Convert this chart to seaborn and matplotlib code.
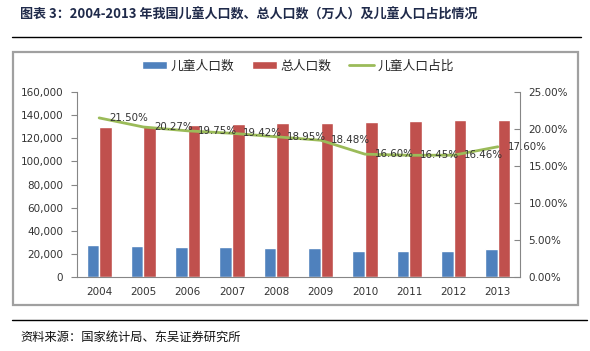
import matplotlib
matplotlib.use("Agg")
import matplotlib.pyplot as plt
import seaborn as sns
import pandas as pd
from matplotlib.ticker import FuncFormatter, FixedLocator, MultipleLocator
from matplotlib.patches import Rectangle
from matplotlib.lines import Line2D

years = ["2004", "2005", "2006", "2007", "2008", "2009", "2010", "2011", "2012", "2013"]
children = [27947, 26504, 25961, 25660, 25166, 24662, 22259, 22164, 22287, 23949]
total = [129988, 130756, 131448, 132129, 132802, 133450, 134091, 134735, 135404, 136072]
share = [21.50, 20.27, 19.75, 19.42, 18.95, 18.48, 16.60, 16.45, 16.46, 17.60]
series_names = ["儿童人口数", "总人口数", "儿童人口占比"]
title = "图表 3：2004-2013 年我国儿童人口数、总人口数（万人）及儿童人口占比情况"
source = "资料来源：国家统计局、东吴证券研究所"

sns.set_theme(style="white")
plt.rcParams['font.family'] = ['DejaVu Sans', 'Noto Sans CJK SC']

W, H = 590, 351
fig = plt.figure(figsize=(W / 100, H / 100), dpi=100)

def fx(px):
    return px / W

def fy(py):
    return 1 - py / H

# chart frame
fig.patches.append(Rectangle((fx(13), fy(305)), fx(578) - fx(13), fy(52) - fy(305),
                             transform=fig.transFigure, fill=False, edgecolor="#a0a0a0",
                             linewidth=1.6, zorder=0))
# header / footer rules
fig.lines.append(Line2D([fx(12), fx(581)], [fy(37), fy(37)], transform=fig.transFigure,
                        color="black", linewidth=1.0))
fig.lines.append(Line2D([fx(12), fx(587)], [fy(320), fy(320)], transform=fig.transFigure,
                        color="black", linewidth=1.0))

fig.text(fx(20), fy(15), title, fontsize=9.4, fontweight="bold", color="#1f2a4a",
         family=['Noto Sans CJK SC', 'DejaVu Sans'], va="center", ha="left")
fig.text(fx(20), fy(337), source, fontsize=8.8, color="#111111",
         family=['Noto Sans CJK SC', 'DejaVu Sans'], va="center", ha="left")

ax = fig.add_axes([fx(77), fy(277), fx(520) - fx(77), fy(92) - fy(277)])

df = pd.DataFrame({
    "year": years * 2,
    "value": children + total,
    "series": [series_names[0]] * len(years) + [series_names[1]] * len(years),
})
sns.barplot(data=df, x="year", y="value", hue="series", ax=ax,
            palette=["#4f81bd", "#c0504d"], width=0.57, gap=0,
            saturation=1, legend=False, zorder=2)
ax.set_ylim(0, 160000)
ax.set_xlim(-0.5, len(years) - 0.5)
ax.yaxis.set_major_locator(MultipleLocator(20000))
ax.yaxis.set_major_formatter(FuncFormatter(lambda v, p: f"{int(v):,}"))
ax.set_xlabel("")
ax.set_ylabel("")
ax.xaxis.set_minor_locator(FixedLocator([i - 0.5 for i in range(len(years) + 1)]))
ax.tick_params(axis="x", which="major", length=0, pad=7, labelsize=7.5, labelcolor="#333333")
ax.tick_params(axis="x", which="minor", length=4, width=0.8, color="#868686", direction="out")
ax.tick_params(axis="y", length=4, width=0.8, color="#868686", direction="out",
               labelsize=7.5, labelcolor="#333333", pad=6, left=True)
for s in ["top", "right"]:
    ax.spines[s].set_visible(False)
for s in ["left", "bottom"]:
    ax.spines[s].set_color("#868686")
    ax.spines[s].set_linewidth(0.8)

ax2 = ax.twinx()
xs = list(range(len(years)))
sns.lineplot(x=xs, y=share, ax=ax2, color="#9bbb59", linewidth=2.0, zorder=3)
ax2.set_ylim(0, 25)
ax2.set_xlim(-0.5, len(years) - 0.5)
ax2.yaxis.set_major_locator(MultipleLocator(5))
ax2.yaxis.set_major_formatter(FuncFormatter(lambda v, p: f"{v:.2f}%"))
ax2.tick_params(axis="y", length=4, width=0.8, color="#868686", direction="in",
                labelsize=7.5, labelcolor="#333333", pad=6, right=True)
for s in ["top", "left", "bottom"]:
    ax2.spines[s].set_visible(False)
ax2.spines["right"].set_color("#868686")
ax2.spines["right"].set_linewidth(0.8)
ax2.grid(False)
ax.grid(False)
for xv, yv in zip(xs, share):
    ax2.annotate(f"{yv:.2f}%", (xv, yv), xytext=(7.5, 0), textcoords="offset points",
                 ha="left", va="center", fontsize=7.4, color="#333333", zorder=4)

handles = [Rectangle((0, 0), 1, 1, facecolor="#4f81bd"),
           Rectangle((0, 0), 1, 1, facecolor="#c0504d"),
           Line2D([0], [0], color="#9bbb59", linewidth=2.0)]
fig.legend(handles, series_names, loc="center", bbox_to_anchor=(fx(298), fy(66)),
           ncol=3, frameon=False, handlelength=1.95, handleheight=0.5,
           columnspacing=1.4, handletextpad=0.25,
           prop={'family': ['Noto Sans CJK SC', 'DejaVu Sans'], 'size': 9.2})

fig.savefig("out.png", dpi=100)
